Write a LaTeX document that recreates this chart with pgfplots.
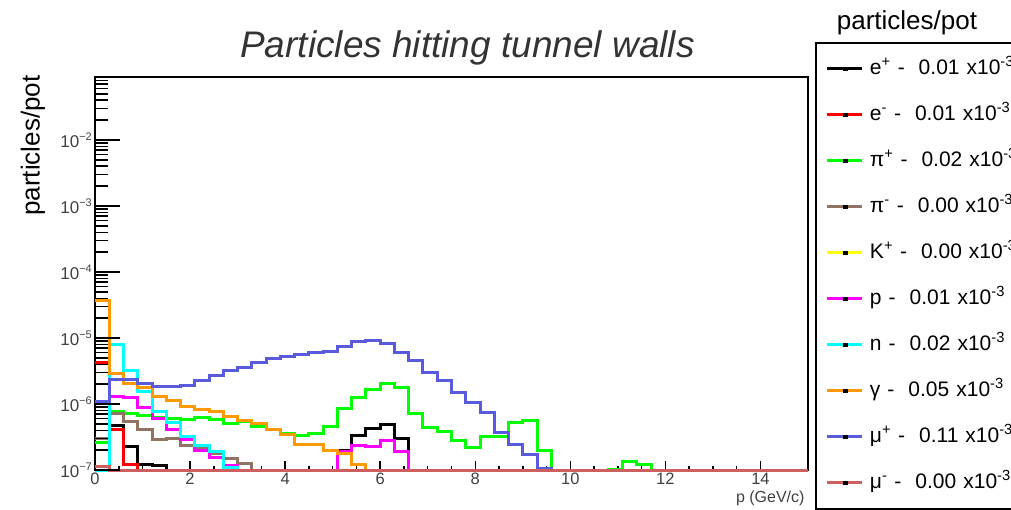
\documentclass[border=0pt]{standalone}
\usepackage{pgfplots}
\pgfplotsset{compat=1.18}
\usepackage{fontspec}
\setmainfont{Liberation Sans}
\definecolor{cEm}{RGB}{255,0,0}
\definecolor{cPip}{RGB}{0,255,0}
\definecolor{cPim}{RGB}{145,115,100}
\definecolor{cKp}{RGB}{255,255,0}
\definecolor{cP}{RGB}{255,0,255}
\definecolor{cN}{RGB}{0,255,255}
\definecolor{cG}{RGB}{255,153,0}
\definecolor{cMup}{RGB}{90,90,220}
\definecolor{cMum}{RGB}{205,95,95}
\newcommand{\ylab}[1]{10\raisebox{0.42em}{\fontsize{11}{11}\selectfont −#1}}
\pgfplotsset{
  hist/.style={const plot mark left, mark=none, line width=3pt,
    legend image code/.code={\draw[line width=3pt] (0pt,0pt) -- (35pt,0pt);
      \fill[black] (17pt,-0.8pt) rectangle (18.6pt,0.8pt);}},
}
\begin{document}
\begin{tikzpicture}
\clip (-95pt,-40pt) rectangle (916pt,470pt);
\begin{axis}[
  scale only axis, width=713pt, height=393pt,
  ymode=log, xmin=0, xmax=15, ymin=1e-7, ymax=0.09,
  clip=false,
  axis line style={line width=1.6pt},
  xtick={0,2,...,14}, minor x tick num=3,
  xtick pos=bottom, ytick=\empty, yminorticks=false,
  tick align=inside, major tick length=9pt, minor tick length=4.5pt,
  xtick style={line width=1.5pt, black},
  /pgf/number format/assume math mode=true,
  xticklabel style={font=\fontsize{16.5}{16.5}\selectfont, text=black!75, inner ysep=2.5pt},
  xlabel={p (GeV/c)},
  xlabel style={at={(axis description cs:1,-0.0815)}, anchor=base east, font=\fontsize{16}{16}\selectfont, text=black!75},
  ylabel={particles/pot},
  ylabel style={at={(axis description cs:-0.087,1.013)}, anchor=east, font=\fontsize{26}{26}\selectfont},
  title={Particles hitting tunnel walls},
  title style={at={(axis description cs:0.5224,1.034)}, anchor=base, font=\fontsize{37}{37}\selectfont\itshape, text=black!80},
  legend cell align=left,
  legend style={at={(axis description cs:1.0098,1.0891)}, anchor=north west,
    draw=black, line width=2pt, fill=white,
    inner xsep=10pt, inner ysep=15.5pt, row sep=25pt,
    font=\fontsize{21}{21}\selectfont,
    nodes={inner sep=0pt, text height=16pt, text depth=5pt, text width=190pt, align=left},
    /tikz/every odd column/.append style={column sep=6pt}},
]
% e+
\addplot[hist, black] coordinates {(0,1e-7)(0.3,4.7e-7)(0.6,2.25e-7)(0.9,1.2e-7)(1.2,1.15e-7)(1.5,1e-7)(5.1,1.95e-7)(5.4,3.3e-7)(5.7,4.2e-7)(6.0,4.9e-7)(6.3,3.05e-7)(6.6,1e-7)(15,1e-7)};
\addlegendentry{e\textsuperscript{+} -\ \ 0.01 x10\textsuperscript{-3}}
% e-
\addplot[hist, cEm] coordinates {(0,4.2e-6)(0.3,4.15e-7)(0.6,1.2e-7)(0.9,1e-7)(15,1e-7)};
\addlegendentry{e\textsuperscript{-} -\ \ 0.01 x10\textsuperscript{-3}}
% pi+
\addplot[hist, cPip] coordinates {(0,2.58e-7)(0.3,7.8e-7)(0.6,7.3e-7)(0.9,6.75e-7)(1.2,6.2e-7)(1.5,6.0e-7)(1.8,5.8e-7)(2.1,6.15e-7)(2.4,5.8e-7)(2.7,5.06e-7)(3.0,5.35e-7)(3.3,4.5e-7)(3.6,4.15e-7)(3.9,3.6e-7)(4.2,3.37e-7)(4.5,3.6e-7)(4.8,4.5e-7)(5.1,8.5e-7)(5.4,1.26e-6)(5.7,1.63e-6)(6.0,2.05e-6)(6.3,1.8e-6)(6.6,7.2e-7)(6.9,4.35e-7)(7.2,3.78e-7)(7.5,2.77e-7)(7.8,2.2e-7)(8.1,3.2e-7)(8.4,3.26e-7)(8.7,5.24e-7)(9.0,5.68e-7)(9.3,2.0e-7)(9.6,1e-7)(10.8,1.02e-7)(11.1,1.35e-7)(11.4,1.2e-7)(11.7,1e-7)(15,1e-7)};
\addlegendentry{π\textsuperscript{+} -\ \ 0.02 x10\textsuperscript{-3}}
% pi-
\addplot[hist, cPim] coordinates {(0,3.0e-7)(0.3,7.2e-7)(0.6,5.5e-7)(0.9,4.1e-7)(1.2,2.9e-7)(1.5,3.05e-7)(1.8,2.38e-7)(2.1,2.2e-7)(2.4,1.8e-7)(2.7,1.5e-7)(3.0,1.25e-7)(3.3,1e-7)(15,1e-7)};
\addlegendentry{π\textsuperscript{-} -\ \ 0.00 x10\textsuperscript{-3}}
% K+
\addplot[hist, cKp] coordinates {(0,1e-7)(15,1e-7)};
\addlegendentry{K\textsuperscript{+} -\ \ 0.00 x10\textsuperscript{-3}}
% p
\addplot[hist, cP] coordinates {(0,1e-7)(0.3,1.31e-6)(0.6,1.25e-6)(0.9,9.0e-7)(1.2,6.0e-7)(1.5,4.1e-7)(1.8,2.94e-7)(2.1,2.0e-7)(2.4,1.53e-7)(2.7,1.15e-7)(3.0,1e-7)(5.1,1.89e-7)(5.4,2.38e-7)(5.7,2.25e-7)(6.0,2.83e-7)(6.3,1.89e-7)(6.6,1e-7)(15,1e-7)};
\addlegendentry{p -\ \ 0.01 x10\textsuperscript{-3}}
% n
\addplot[hist, cN] coordinates {(0,1e-7)(0.3,8.1e-6)(0.6,3.2e-6)(0.9,1.52e-6)(1.2,7.6e-7)(1.5,5.25e-7)(1.8,3.26e-7)(2.1,2.38e-7)(2.4,1.89e-7)(2.7,1.1e-7)(3.0,1e-7)(15,1e-7)};
\addlegendentry{n -\ \ 0.02 x10\textsuperscript{-3}}
% gamma
\addplot[hist, cG] coordinates {(0,3.76e-5)(0.3,2.94e-6)(0.6,2.07e-6)(0.9,1.77e-6)(1.2,1.32e-6)(1.5,1.12e-6)(1.8,9.2e-7)(2.1,8.3e-7)(2.4,7.8e-7)(2.7,6.5e-7)(3.0,5.7e-7)(3.3,5.06e-7)(3.6,4.1e-7)(3.9,3.5e-7)(4.2,2.47e-7)(4.5,2.47e-7)(4.8,2.0e-7)(5.1,1.76e-7)(5.4,1.2e-7)(5.7,1e-7)(15,1e-7)};
\addlegendentry{γ -\ \ 0.05 x10\textsuperscript{-3}}
% mu+
\addplot[hist, cMup] coordinates {(0,1.11e-6)(0.3,2.36e-6)(0.6,2.34e-6)(0.9,2.03e-6)(1.2,1.85e-6)(1.5,1.83e-6)(1.8,1.91e-6)(2.1,2.29e-6)(2.4,2.71e-6)(2.7,3.2e-6)(3.0,3.61e-6)(3.3,4.25e-6)(3.6,4.84e-6)(3.9,5.3e-6)(4.2,5.6e-6)(4.5,5.96e-6)(4.8,6.3e-6)(5.1,7.4e-6)(5.4,8.8e-6)(5.7,9.3e-6)(6.0,8.2e-6)(6.3,6.1e-6)(6.6,4.56e-6)(6.9,3.04e-6)(7.2,2.29e-6)(7.5,1.5e-6)(7.8,1.05e-6)(8.1,7.5e-7)(8.4,3.66e-7)(8.7,2.47e-7)(9.0,1.72e-7)(9.3,1.06e-7)(9.6,1e-7)(15,1e-7)};
\addlegendentry{μ\textsuperscript{+} -\ \ 0.11 x10\textsuperscript{-3}}
% mu-
\addplot[hist, cMum] coordinates {(0,1.12e-7)(0.3,1e-7)(15,1e-7)};
\addlegendentry{μ\textsuperscript{-} -\ \ 0.00 x10\textsuperscript{-3}}
\node[anchor=base, font=\fontsize{26}{26}\selectfont] at (axis description cs:1.1388,1.1221) {particles/pot};
\end{axis}
\begin{axis}[
  scale only axis, width=713pt, height=393pt,
  ymode=log, xmin=0, xmax=15, ymin=1e-7, ymax=0.09,
  xtick=\empty, axis line style={draw=none},
  ytick={1e-7,1e-6,1e-5,1e-4,1e-3,1e-2},
  yticklabels={\ylab{7},\ylab{6},\ylab{5},\ylab{4},\ylab{3},\ylab{2}},
  yticklabel style={font=\fontsize{17}{17}\selectfont, text=black!75, inner xsep=3pt},
  minor ytick={2e-7,3e-7,4e-7,5e-7,6e-7,7e-7,8e-7,9e-7,2e-6,3e-6,4e-6,5e-6,6e-6,7e-6,8e-6,9e-6,2e-5,3e-5,4e-5,5e-5,6e-5,7e-5,8e-5,9e-5,2e-4,3e-4,4e-4,5e-4,6e-4,7e-4,8e-4,9e-4,2e-3,3e-3,4e-3,5e-3,6e-3,7e-3,8e-3,9e-3,2e-2,3e-2,4e-2,5e-2,6e-2,7e-2,8e-2},
  ytick pos=left, tick align=inside,
  major tick length=25pt, minor tick length=13pt,
  tick style={line width=1.5pt, black},
]
\end{axis}
\end{tikzpicture}
\end{document}
